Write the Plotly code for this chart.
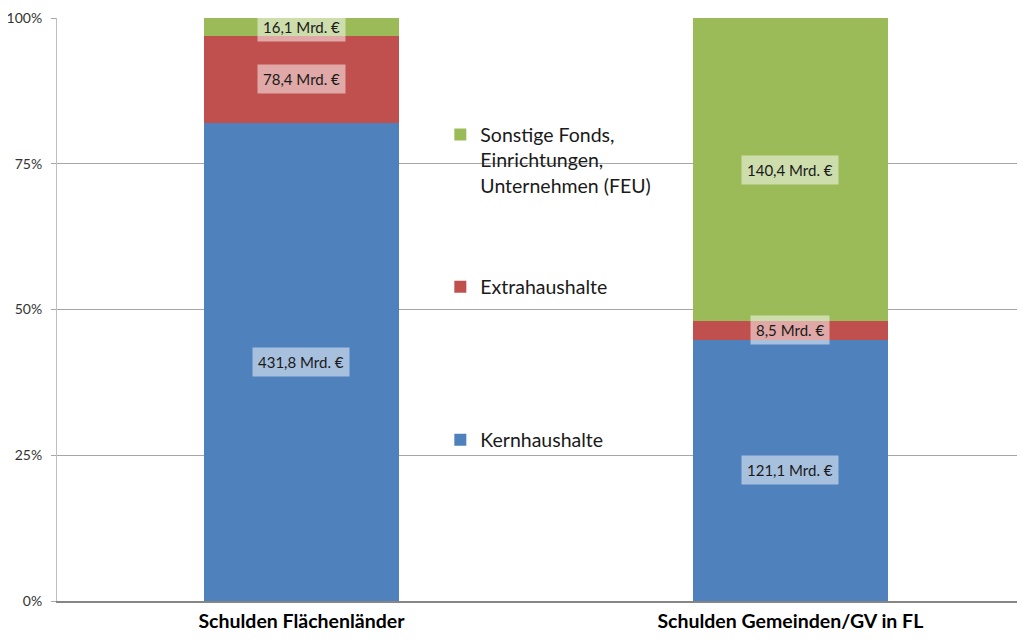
import plotly.graph_objects as go

categories = ["Schulden Flächenländer", "Schulden Gemeinden/GV in FL"]
series_names = ["Kernhaushalte", "Extrahaushalte", "Sonstige Fonds,<br>Einrichtungen,<br>Unternehmen (FEU)"]
kern = [431.8, 121.1]
extra = [78.4, 8.5]
feu = [16.1, 140.4]
colors = ["#4F81BD", "#C0504D", "#9BBB59"]
legend_ids = ["legend3", "legend2", "legend"]

values = [kern, extra, feu]
totals = [sum(v[i] for v in values) for i in range(len(categories))]

fig = go.Figure()
for name, vals, col, lg in zip(series_names, values, colors, legend_ids):
    fig.add_trace(go.Bar(
        x=categories,
        y=vals,
        name=name,
        marker=dict(color=col, line=dict(width=0)),
        width=0.4,
        legend=lg,
        showlegend=True,
        hoverinfo="skip",
    ))

# value labels centred in each segment (percent of column total)
for i, cat in enumerate(categories):
    base = 0.0
    for vals in values:
        share = vals[i] / totals[i] * 100
        fig.add_annotation(
            x=cat, y=base + share / 2,
            text=f"{vals[i]:.1f}".replace(".", ",") + " Mrd. €",
            showarrow=False,
            font=dict(family="Lato", size=15, color="#1a1a1a"),
            bgcolor="rgba(255,255,255,0.5)",
            borderpad=5,
        )
        base += share

# white backdrop behind the legend, interrupting the gridlines
fig.add_shape(type="rect", xref="paper", yref="paper",
              x0=0.401, x1=0.626, y0=0.215, y1=0.83,
              fillcolor="white", line=dict(width=0), layer="between")

leg_font = dict(family="Lato", size=19.5, color="#1a1a1a")
fig.update_layout(
    width=1017, height=634,
    showlegend=True,
    barmode="stack", barnorm="percent",
    plot_bgcolor="white", paper_bgcolor="white",
    margin=dict(l=49, r=0, t=10, b=41),
    font=dict(family="Lato"),
    legend=dict(x=0.396, xanchor="left", y=0.833, yanchor="top", valign="top",
                font=leg_font, bgcolor="rgba(0,0,0,0)"),
    legend2=dict(x=0.396, xanchor="left", y=0.5386, yanchor="middle",
                 font=leg_font, bgcolor="rgba(0,0,0,0)"),
    legend3=dict(x=0.396, xanchor="left", y=0.276, yanchor="middle",
                 font=leg_font, bgcolor="rgba(0,0,0,0)"),
    xaxis=dict(
        range=[-0.5, 1.48],
        showgrid=False,
        showline=True, linecolor="#868686", linewidth=2,
        ticks="outside", ticklen=2, tickcolor="rgba(0,0,0,0)",
        tickfont=dict(family="Lato", size=19.5, color="#000000", weight="bold"),
    ),
    yaxis=dict(
        range=[0, 100],
        tickvals=[0, 25, 50, 75, 100],
        ticktext=["0%", "25%", "50%", "75%", "100%"],
        showgrid=True, gridcolor="#A6A6A6", gridwidth=1,
        showline=True, linecolor="#BFBFBF", linewidth=1,
        ticks="outside", ticklen=5, tickcolor="#A6A6A6",
        ticklabelstandoff=6,
        tickfont=dict(family="Lato", size=14, color="#333333"),
        zeroline=False,
    ),
)

fig.write_html("out.html")
